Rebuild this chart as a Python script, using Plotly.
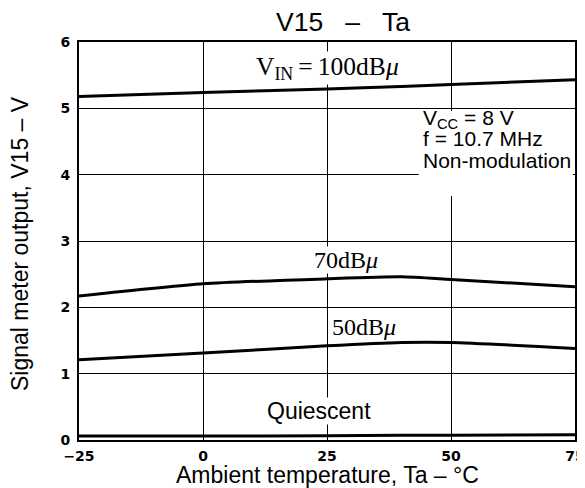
import plotly.graph_objects as go

ta = [-25, 0, 25, 40, 50, 75]
v_100 = [5.18, 5.24, 5.29, 5.33, 5.36, 5.43]
v_70 = [2.17, 2.355, 2.43, 2.46, 2.42, 2.31]
v_50 = [1.21, 1.31, 1.42, 1.47, 1.47, 1.38]
v_q = [0.06, 0.06, 0.065, 0.07, 0.07, 0.08]

x_ticks = [-25, 0, 25, 50, 75]
x_tick_text = ["\u221225", "0", "25", "50", "75"]
y_ticks = [0, 1, 2, 3, 4, 5, 6]

fig = go.Figure()
for ys in [v_100, v_70, v_50, v_q]:
    fig.add_trace(go.Scatter(x=ta, y=ys, mode="lines",
                             line=dict(color="black", width=3, shape="spline", smoothing=0.6),
                             showlegend=False, hoverinfo="skip"))

serif = "Liberation Serif, DejaVu Serif, serif"
sans = "Liberation Sans, Arial, sans-serif"

# white patch behind the condition text (hides gridlines there)
fig.add_shape(type="rect", xref="x", yref="y", x0=43.5, x1=74.6, y0=3.68, y1=4.96,
              fillcolor="white", line=dict(width=0), layer="between")

anns = [
    dict(x=25, y=5.61, text="V<sub>IN</sub>\u2009=\u2009100dB<i>\u03bc</i>", font=dict(family=serif, size=25.5, color="black")),
    dict(x=28.9, y=2.71, text="70dB<i>\u03bc</i>", font=dict(family=serif, size=24, color="black")),
    dict(x=32.4, y=1.70, text="50dB<i>\u03bc</i>", font=dict(family=serif, size=24, color="black")),
    dict(x=23.4, y=0.43, text="Quiescent", font=dict(family=sans, size=23, color="black")),
]
for a in anns:
    fig.add_annotation(xref="x", yref="y", showarrow=False, bgcolor="white", borderpad=0,
                       xanchor="center", yanchor="middle", **a)

cond_lines = [("V<sub>CC</sub> = 8 V", 4.84), ("f = 10.7 MHz", 4.545), ("Non-modulation", 4.22)]
for txt, yy in cond_lines:
    fig.add_annotation(xref="x", yref="y", x=43.9, y=yy, xanchor="left", yanchor="middle",
                       showarrow=False, text=txt, font=dict(family=sans, size=21, color="black"))

# titles as paper annotations
fig.add_annotation(xref="paper", yref="paper", x=0.532, y=1.050, xanchor="center", yanchor="middle",
                   text="V15\u00a0\u00a0\u00a0\u2013\u00a0\u00a0\u00a0Ta",
                   showarrow=False, font=dict(family=sans, size=26.5, color="black"))
fig.add_annotation(xref="paper", yref="paper", x=0.501, y=-0.089, xanchor="center", yanchor="middle",
                   text="Ambient temperature, Ta \u2013 \u00b0C",
                   showarrow=False, font=dict(family=sans, size=23, color="black"))
fig.add_annotation(xref="paper", yref="paper", x=-0.119, y=0.495, textangle=-90,
                   xanchor="center", yanchor="middle",
                   text="Signal meter output, V15 \u2013 V",
                   showarrow=False, font=dict(family=sans, size=23, color="black"))

# page body has an 8px margin, so margins are reduced by 8 on the left/top
fig.update_layout(
    width=585, height=488,
    margin=dict(l=71, r=18, t=34, b=56, autoexpand=False),
    paper_bgcolor="white", plot_bgcolor="white",
    xaxis=dict(range=[-25, 75], tickvals=x_ticks, ticktext=x_tick_text,
               showgrid=True, gridcolor="black", gridwidth=1.3,
               showline=True, linecolor="black", linewidth=2, mirror=True,
               ticks="", zeroline=False, automargin=False, ticklabelstandoff=2,
               ticklabeloverflow="allow",
               tickfont=dict(family="DejaVu Sans", size=14, color="black", weight="bold")),
    yaxis=dict(range=[0, 6], tickvals=y_ticks,
               showgrid=True, gridcolor="black", gridwidth=1.3,
               showline=True, linecolor="black", linewidth=2, mirror=True,
               ticks="", zeroline=False, automargin=False, ticklabelstandoff=4,
               tickfont=dict(family="DejaVu Sans", size=14, color="black", weight="bold")),
)

fig.write_html("out.html")
